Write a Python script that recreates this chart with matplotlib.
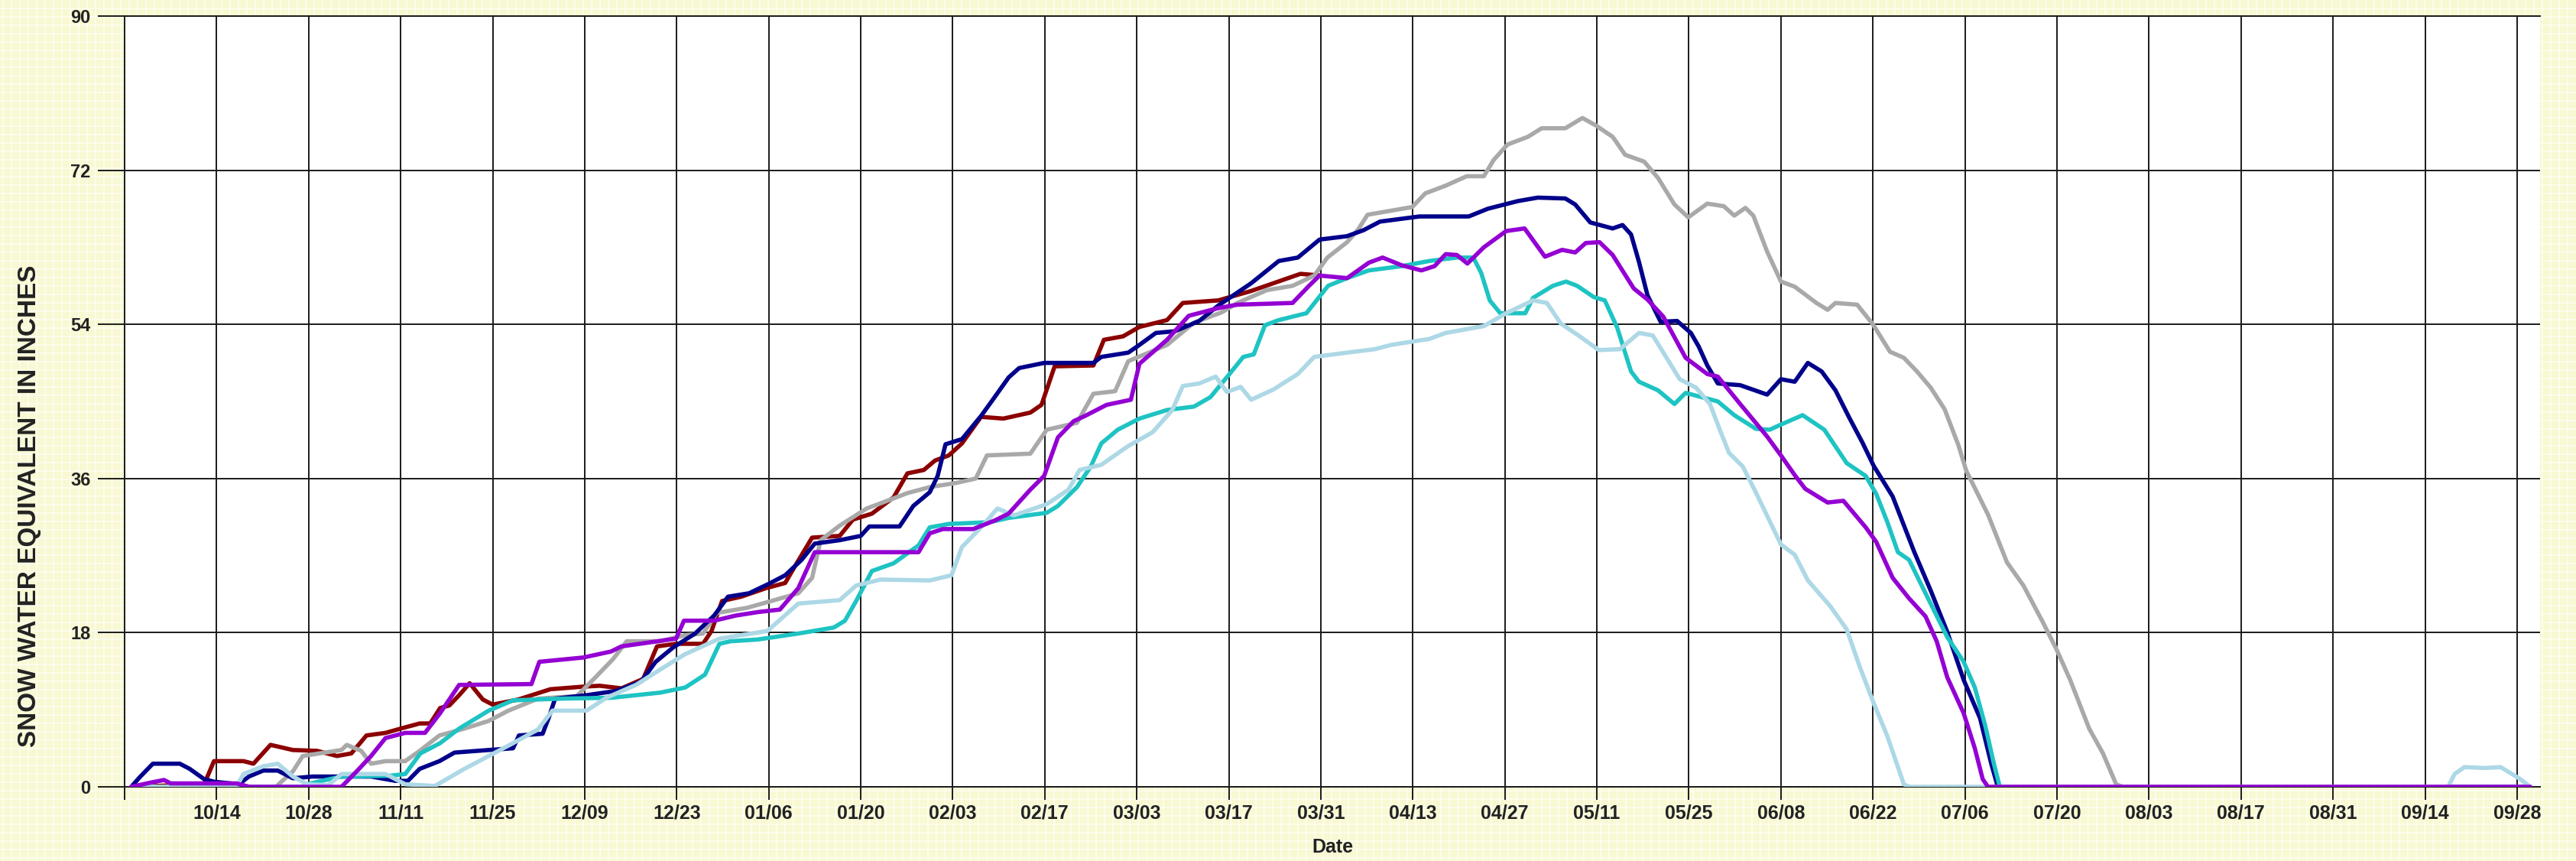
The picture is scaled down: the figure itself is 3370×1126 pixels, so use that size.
import numpy as np
import matplotlib.pyplot as plt

plt.rcParams['font.family'] = ['Liberation Sans', 'DejaVu Sans']
plt.rcParams['font.weight'] = 'bold'

# x = day of the water year (0 = 10/01), y = snow water equivalent (inches)
navy_day = [0, 1.4, 3.3, 7.4, 8.9, 11.1, 12.6, 16.4, 17.9, 20.1, 22.3, 24.6, 27.6, 36.5,
            40.2, 42.1, 43.9, 46.9, 49.2, 54.4, 58.1, 59, 62.6, 63.5, 64.5, 69.3, 73.8,
            77.6, 79.8, 82.5, 85.8, 88.7, 90.8, 94, 97, 99.5, 102, 104, 107.8, 111,
            112.3, 116.9, 119, 121.5, 122.7, 123.9, 126.4, 129.3, 131, 133.5, 135.1,
            138.9, 146.4, 147.6, 151.7, 153.4, 155.9, 158.8, 162.5, 165.4, 170.4, 174.6,
            177.5, 180.8, 185, 187.5, 190, 196, 203.5, 206.4, 211, 214, 218.2, 219.7,
            222, 225.4, 226.9, 228.2, 229.4, 230.7, 232.7, 235.2, 237.3, 238.5, 239.8,
            241.4, 244.8, 248.9, 251, 253.1, 255.1, 257.2, 259.3, 261.4, 263.4, 265.1,
            268, 271.3, 273.8, 276.3, 278.8, 281.3, 283, 284, 365]
navy_swe = [0, 1.2, 2.7, 2.7, 2.1, 0.9, 0.6, 0.3, 1.2, 1.9, 1.9, 1.0, 1.2, 1.2,
            0.7, 0.7, 2.1, 3.0, 4.0, 4.3, 4.5, 6.0, 6.2, 8.0, 10.3, 10.7, 11.2,
            12.3, 14.6, 16.3, 17.9, 20.0, 22.2, 22.6, 23.7, 24.7, 26.5, 28.4, 28.8, 29.3,
            30.4, 30.4, 32.8, 34.4, 36.3, 40.0, 40.6, 43.3, 45.1, 47.8, 48.9,
            49.5, 49.5, 50.2, 50.7, 51.6, 53.0, 53.2, 54.4, 56.2, 58.8, 61.4,
            61.8, 63.9, 64.3, 65.0, 66.0, 66.6, 66.6, 67.5, 68.4, 68.8, 68.7, 68.0,
            65.9, 65.2, 65.6, 64.5, 61.3, 57.4, 54.3, 54.4, 53.0, 51.4, 49.2,
            47.1, 46.9, 45.8, 47.6, 47.3, 49.5, 48.5, 46.3, 43.1, 40.2, 37.5,
            33.9, 27.4, 22.9, 18.1, 12.5, 8.0, 2.7, 0, 0]

red_day = [0, 11.1, 12.6, 17.1, 18.6, 21.2, 24.6, 28.3, 31.3, 33.5, 35.8, 38.7, 41, 43.9,
           45.5, 47, 48.4, 49.9, 51.5, 53.5, 55, 58.9, 63.8, 68.8, 71.3, 74.6, 77.9, 80,
           82.9, 87, 88.3, 89.9, 92.8, 96.6, 99.5, 101.1, 103.6, 107.8, 109.8, 112.7, 116,
           118.1, 120.6, 122.3, 124.4, 126.4, 129.3, 132.7, 136.8, 138.5, 140.5, 146.4,
           148, 150.9, 153.4, 157.6, 160, 165.4, 170.4, 177.9, 181]
red_swe = [0, 0.3, 3.0, 3.0, 2.7, 4.9, 4.3, 4.2, 3.6, 3.9, 6.0, 6.3, 6.8, 7.4,
           7.4, 9.2, 9.5, 10.7, 12.1, 10.2, 9.6, 10.2, 11.4, 11.7, 11.8, 11.5, 12.6, 16.4,
           16.7, 16.7, 18.2, 21.7, 22.2, 23.2, 23.8, 25.9, 29.1, 29.3, 31.2, 31.9, 33.8,
           36.6, 37.0, 38.1, 38.7, 40.1, 43.2, 43.0, 43.7, 44.6, 49.1, 49.2,
           52.2, 52.6, 53.7, 54.5, 56.5, 56.8, 57.9, 59.9, 59.7]

gray_day = [0, 22, 24.6, 26.1, 32, 32.8, 35, 36.5, 38.7, 41.7, 43.9, 46.9, 50.7, 54.4, 57.4,
            61.9, 67.8, 70.4, 73.3, 75.4, 80.4, 84.3, 87, 89.1, 93.7, 97.4, 101.5, 103.6,
            104.9, 107.8, 111.9, 114, 118.1, 121.5, 125.6, 128.5, 130.2, 136.8, 139.3,
            143.9, 146.4, 149.7, 151.7, 157.6, 161.7, 165.9, 168.3, 172.8, 176.7, 180, 182,
            185, 186.7, 188.1, 194.9, 196.9, 200, 203.2, 205.8, 207.3, 209.4, 212.5, 214.6,
            218.2, 220.8, 222.9, 225.4, 227.3, 230.2, 232.3, 234.8, 236.9, 239.8, 242.3,
            243.9, 245.6, 246.8, 248.9, 251, 253.1, 256.4, 258.1, 259.3, 262.6, 265, 267.6,
            269.7, 271.7, 273.8, 275.9, 278, 279.2, 282.5, 285.4, 287.9, 290.8, 292.9, 295,
            297.9, 300, 302, 303, 365]
gray_swe = [0, 0, 1.8, 3.6, 4.3, 4.9, 4.2, 2.7, 3.0, 3.0, 4.2, 6.0, 6.8, 7.7, 8.9,
            10.3, 10.6, 12.6, 14.9, 17.0, 17.0, 17.7, 17.9, 20.3, 20.9, 21.7, 22.6, 24.4,
            28.8, 30.5, 32.5, 33.1, 34.3, 35.0, 35.5, 36.0, 38.7, 38.9, 41.7,
            42.5, 45.9, 46.2, 49.7, 51.6, 54.2, 55.4, 56.5, 58.0, 58.5, 59.7, 61.8,
            63.6, 65.1, 66.8, 67.7, 69.3, 70.2, 71.3, 71.3, 73.2, 75.0, 75.9, 76.9,
            76.9, 78.1, 77.2, 75.9, 73.8, 73.0, 71.1, 68.0, 66.5, 68.1, 67.8,
            66.7, 67.6, 66.7, 62.5, 59.0, 58.4, 56.5, 55.7, 56.5, 56.3, 54.0, 50.8,
            50.1, 48.5, 46.6, 44.1, 39.9, 36.9, 31.8, 26.2, 23.5, 19.3, 16.1, 12.5,
            6.8, 3.9, 0.3, 0, 0]

purple_day = [0, 3, 5, 6, 16, 18, 32, 34.3, 36.5, 38.7, 41.7, 44.7, 47, 49.9, 60.9, 62.1,
              68.8, 73, 74.6, 82.9, 84.1, 88.7, 92, 95.3, 98.7, 101.5, 104, 119.8, 121.5,
              123.5, 128.1, 131.4, 133.5, 136.8, 138.9, 141, 143.4, 145.1, 148.4, 152.1,
              153.4, 157.6, 160.9, 165.4, 168.3, 176.7, 179.2, 180.8, 185, 188.3, 190.4,
              193.3, 196.3, 198.3, 200, 201.7, 203.3, 205.8, 209.2, 212, 215.1, 217.7,
              219.7, 221.3, 223.4, 225.4, 228.6, 230.7, 233.1, 236.5, 239.8, 241.4, 244.8,
              248.9, 251, 253.1, 254.7, 258.1, 260.5, 263.9, 265.5, 268, 270.5, 273, 274.7,
              276.3, 278.8, 280.5, 281.7, 282.5, 365]
purple_swe = [0, 0.5, 0.8, 0.4, 0.4, 0, 0, 1.8, 3.6, 5.7, 6.3, 6.3, 8.6, 11.9, 12.0, 14.6,
              15.1, 15.8, 16.4, 17.3, 19.4, 19.4, 20.0, 20.4, 20.7, 23.2, 27.4, 27.4, 29.6,
              30.1, 30.1, 31.1, 31.9, 34.7, 36.3, 40.8, 42.7, 43.3, 44.6, 45.2,
              49.4, 52.2, 55.0, 55.9, 56.3, 56.5, 58.5, 59.7, 59.4, 61.2, 61.8,
              60.9, 60.3, 60.8, 62.2, 62.1, 61.1, 63.0, 64.9, 65.2, 61.9, 62.7,
              62.4, 63.5, 63.6, 62.1, 58.2, 56.9, 54.9, 50.1, 48.2, 47.9, 44.7,
              40.9, 38.7, 36.4, 34.8, 33.2, 33.4, 30.3, 28.6, 24.4, 22.0, 19.9, 17.0,
              12.8, 8.6, 4.5, 0.9, 0, 0]

cyan_day = [0, 26, 26.8, 29, 32, 39.5, 41.7, 44, 47, 49.9, 54.4, 58.1, 65.6, 73.1, 80.5,
            84.3, 87.3, 89.5, 91.2, 95.3, 101.5, 106.9, 108.6, 110.3, 112.7, 116, 119.8,
            121.5, 124.4, 130.6, 133.5, 139.3, 141, 143.9, 146, 147.6, 150.1, 153.4, 157.6,
            161.7, 164.2, 167.1, 169.2, 170.8, 172.5, 174.6, 178.8, 182.1, 185, 188.3,
            193.3, 197.5, 201.7, 204.2, 205.4, 206.7, 208.3, 212.1, 213.3, 216.3, 218.3,
            220, 222.5, 224.2, 226.1, 228.2, 229.4, 232.3, 234.8, 236.5, 241.4, 243.9,
            247.2, 249.3, 251, 254.3, 257.6, 261, 263.9, 265.5, 267.2, 268.8, 270.5, 273,
            276.3, 278.8, 280.5, 282.1, 283.4, 284.3, 365]
cyan_swe = [0, 0, 0.3, 0.7, 1.2, 1.3, 1.5, 3.9, 5.1, 6.8, 8.9, 10.1, 10.3, 10.4, 11.0,
            11.6, 13.1, 16.7, 17.0, 17.2, 17.9, 18.6, 19.4, 21.7, 25.2, 26.1, 28.2,
            30.3, 30.7, 30.9, 31.4, 32.0, 32.8, 35.0, 37.4, 40.1, 41.7, 43.0, 44.0,
            44.4, 45.5, 48.2, 50.2, 50.5, 53.9, 54.5, 55.3, 58.5, 59.4, 60.3,
            60.8, 61.4, 61.8, 61.8, 60.0, 56.8, 55.3, 55.3, 57.1, 58.5, 59.0,
            58.5, 57.2, 56.8, 53.6, 48.5, 47.3, 46.3, 44.7, 46.0, 45.0, 43.4,
            41.8, 41.7, 42.3, 43.4, 41.7, 37.8, 36.3, 34.2, 30.9, 27.4, 26.5, 22.6,
            17.5, 14.6, 11.6, 7.1, 2.7, 0, 0]

light_day = [0, 16, 17.1, 20.1, 22.3, 24.6, 26.8, 30, 32, 38.7, 41.7, 46.2, 50.7, 54.4, 58.1,
             61.9, 64.1, 69.3, 72.3, 76.8, 80.5, 84.3, 89.5, 96.8, 101.5, 107.8, 110.3, 114,
             121.5, 124.8, 126.4, 129.3, 131.8, 134.3, 139.3, 142.6, 144.3, 147.6, 151.7,
             155.4, 158.4, 160, 162.5, 165, 166.7, 168.8, 170.4, 173.8, 177.5, 180, 185,
             189.2, 191.7, 195, 197.5, 200, 205.8, 209.2, 213.3, 215.4, 217.5, 220.4, 223.3,
             226.5, 229.4, 231.5, 233.6, 235.6, 238.1, 240.2, 241.8, 243.1, 245.2, 247.3,
             251, 253.1, 255.1, 258.5, 261, 263, 265.1, 267.2, 269.7, 270.5, 352.5, 353.5,
             355, 358, 360.5, 362, 363.5, 365]
light_swe = [0, 0, 1.5, 2.4, 2.7, 1.2, 0.3, 0.2, 1.5, 1.5, 0.3, 0.1, 2.1, 3.6, 5.1,
             6.7, 8.9, 8.9, 10.4, 11.9, 13.7, 15.5, 17.3, 18.2, 21.4, 21.8, 23.5, 24.2,
             24.1, 24.7, 28.0, 30.3, 32.5, 31.7, 33.0, 34.7, 37.0, 37.6, 39.8,
             41.4, 44.0, 46.8, 47.1, 47.9, 46.1, 46.7, 45.2, 46.4, 48.2, 50.2, 50.7,
             51.1, 51.6, 52.0, 52.3, 53.0, 53.8, 55.3, 56.8, 56.5, 54.1, 52.6, 51.0,
             51.1, 53.0, 52.7, 50.1, 47.6, 46.6, 44.7, 41.5, 39.0, 37.4, 34.2,
             28.3, 27.1, 24.1, 21.1, 18.4, 14.0, 9.8, 5.9, 0.3, 0, 0, 1.5,
             2.3, 2.2, 2.3, 1.6, 0.9, 0]

tick_days = [13, 27, 41, 55, 69, 83, 97, 111, 125, 139, 153, 167, 181,
             195, 209, 223, 237, 251, 265, 279, 293, 307, 321, 335, 349, 363]
tick_labels = ["10/14", "10/28", "11/11", "11/25", "12/09", "12/23", "01/06", "01/20",
               "02/03", "02/17", "03/03", "03/17", "03/31", "04/13", "04/27", "05/11",
               "05/25", "06/08", "06/22", "07/06", "07/20", "08/03", "08/17", "08/31",
               "09/14", "09/28"]
y_ticks = [0, 18, 36, 54, 72, 90]

W, H = 3370, 1126
fig = plt.figure(figsize=(W / 100, H / 100), dpi=100)
fig.patch.set_facecolor("#f8f8d2")

# graph-paper background
bg = fig.add_axes([0, 0, 1, 1])
bg.set_xlim(0, W)
bg.set_ylim(0, H)
bg.vlines(np.arange(4, W, 11), 0, H, color="#fefef2", lw=1.2)
bg.hlines(np.arange(4, H, 11), 0, W, color="#fefef2", lw=1.2)
bg.axis("off")
bg.set_zorder(0)

ax = fig.add_axes([163 / W, 1 - 1029 / H, (3323 - 163) / W, (1029 - 21) / H])
ax.set_zorder(1)
ax.set_facecolor("white")

series = [
    (red_day, red_swe, "#8b0000"),
    (gray_day, gray_swe, "#a9a9a9"),
    (navy_day, navy_swe, "#00008b"),
    (cyan_day, cyan_swe, "#1fc3c3"),
    (light_day, light_swe, "#add8e6"),
    (purple_day, purple_swe, "#9400d3"),
]
for d, v, c in series:
    ax.plot(d, v, color=c, lw=4.0, solid_joinstyle="round", solid_capstyle="round",
            zorder=3)

ax.set_xlim(-1, 366.5)
ax.set_ylim(0, 90)
ax.set_xticks(tick_days)
ax.set_xticklabels(tick_labels)
ax.set_xticks([-1], minor=True)
ax.set_yticks(y_ticks)
ax.grid(True, color="#1a1a1a", lw=1.4, zorder=1)
ax.set_axisbelow(True)

for s in ["left", "bottom", "top"]:
    ax.spines[s].set_color("#1a1a1a")
    ax.spines[s].set_linewidth(1.4)
ax.spines["right"].set_visible(False)

ax.tick_params(axis="y", direction="out", length=25, width=1.4, color="#1a1a1a",
               pad=7, labelsize=17, labelcolor="#222222")
ax.tick_params(axis="x", which="both", direction="out", length=12, width=1.4,
               color="#1a1a1a", pad=4, labelsize=18, labelcolor="#222222")

fig.text(39 / W, 1 - 662 / H, "SNOW WATER EQUIVALENT IN INCHES", rotation=90,
         ha="center", va="center", fontsize=24, fontweight="bold", color="#222222")
fig.text(1743 / W, 1 - 1108 / H, "Date", ha="center", va="center", fontsize=18,
         fontweight="bold", color="#222222")

fig.savefig("out.png", dpi=100, facecolor=fig.get_facecolor())
